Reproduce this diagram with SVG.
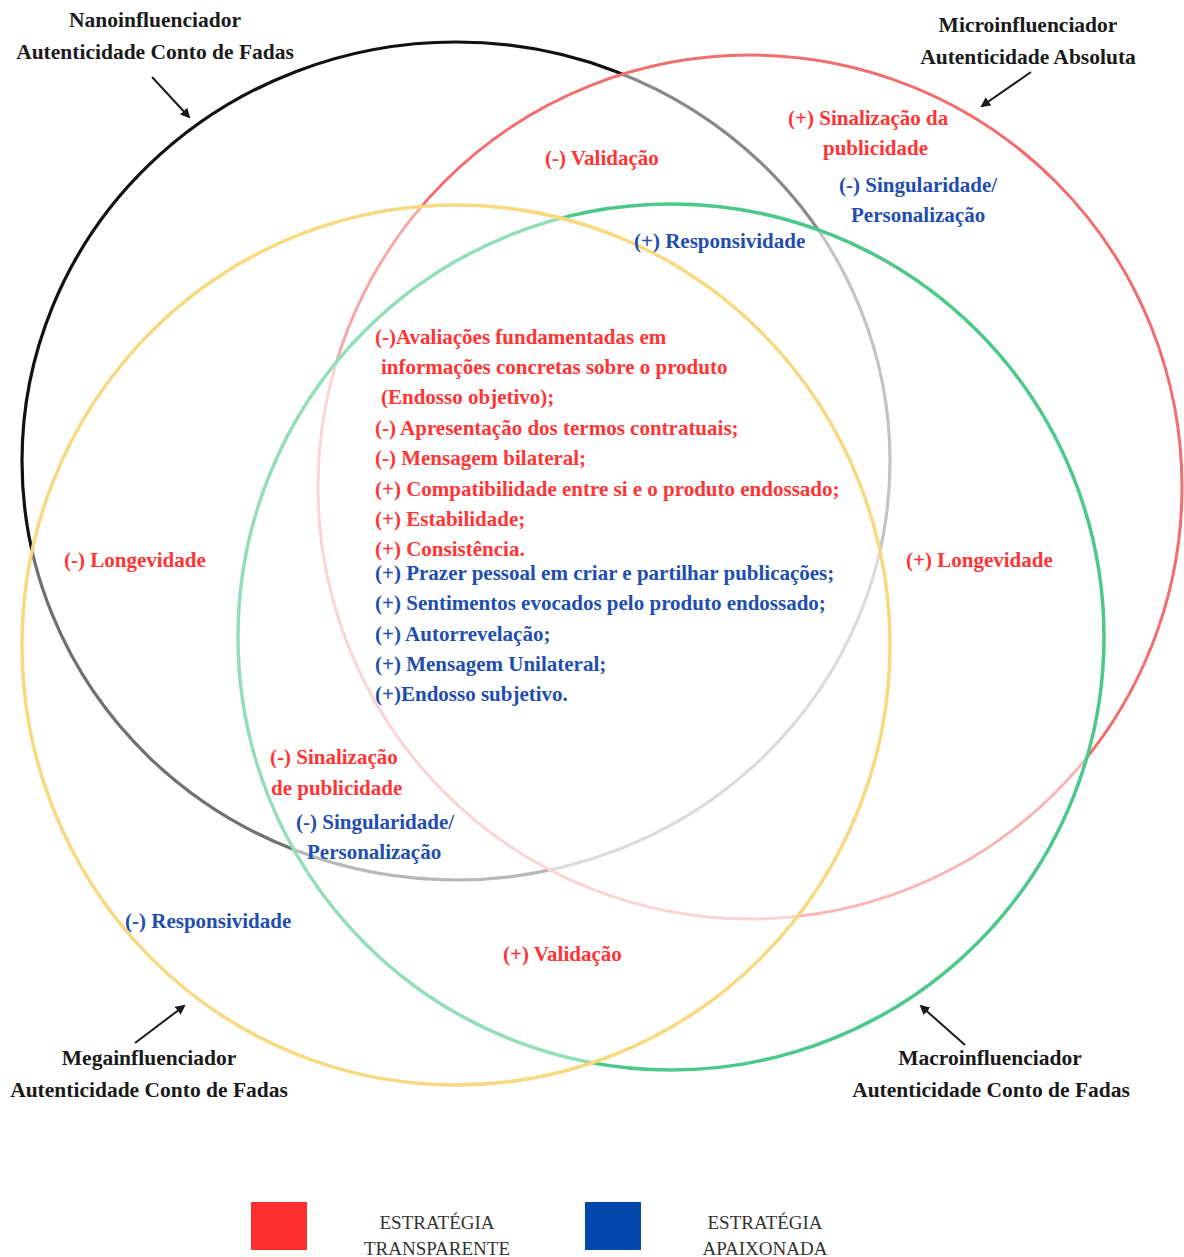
<svg xmlns="http://www.w3.org/2000/svg" width="1184" height="1257" viewBox="0 0 1184 1257">
  <style>
    .ring { fill: #ffffff; fill-opacity: 0.5; }
    .lbl { font-family: "Liberation Serif", "Times New Roman", serif; font-weight: bold; font-size: 21px; }
    .head { fill: #1a1a1a; text-anchor: middle; font-size: 21.5px; }
    .tr { fill: #ff3535; }
    .ap { fill: #1f4eaf; }
    .leg { font-family: "Liberation Serif", "Times New Roman", serif; font-size: 19px; fill: #333333; text-anchor: middle; }
    .ptr { stroke: #1a1a1a; stroke-width: 2; fill: none; marker-end: url(#tip); }
  </style>
  <defs>
    <marker id="tip" viewBox="0 0 10 10" refX="8" refY="5" markerWidth="5" markerHeight="5" orient="auto">
      <path d="M0,0 L10,5 L0,10 z" fill="#1a1a1a"/>
    </marker>
  </defs>
  <rect width="1184" height="1257" fill="#ffffff"/>

  <!-- influencer circles, each veiling the outlines drawn before it -->
  <g id="nano-circle">
    <ellipse cx="456" cy="461" rx="434" ry="419" fill="none" stroke="#111111" stroke-width="3.2"/>
  </g>
  <g id="micro-circle">
    <circle class="ring" cx="750" cy="487" r="432" stroke="#f26d6d" stroke-width="3"/>
  </g>
  <g id="macro-circle">
    <circle class="ring" cx="671" cy="637" r="433" stroke="#4cc98a" stroke-width="3.5"/>
  </g>
  <g id="mega-circle">
    <ellipse cx="456" cy="645" rx="434" ry="440" fill="#ffffff" fill-opacity="0.4" stroke="#f7d982" stroke-width="3.5"/>
  </g>

  <!-- pointers from the titles to their circles -->
  <g id="connectors">
    <line class="ptr" x1="152" y1="77" x2="189" y2="117"/>
    <line class="ptr" x1="1031" y1="72" x2="982" y2="106"/>
    <line class="ptr" x1="135" y1="1043" x2="184" y2="1006"/>
    <line class="ptr" x1="965" y1="1045" x2="921" y2="1006"/>
  </g>

  <g id="nano-title" class="lbl head">
    <text x="155" y="27">Nanoinfluenciador</text>
    <text x="155" y="59">Autenticidade Conto de Fadas</text>
  </g>
  <g id="micro-title" class="lbl head">
    <text x="1028" y="32">Microinfluenciador</text>
    <text x="1028" y="64">Autenticidade Absoluta</text>
  </g>
  <g id="mega-title" class="lbl head">
    <text x="149" y="1065">Megainfluenciador</text>
    <text x="149" y="1097">Autenticidade Conto de Fadas</text>
  </g>
  <g id="macro-title" class="lbl head">
    <text x="990" y="1065">Macroinfluenciador</text>
    <text x="991" y="1097">Autenticidade Conto de Fadas</text>
  </g>

  <g id="micro-traits" class="lbl">
    <text class="tr" x="788" y="125">(+) Sinalização da</text>
    <text class="tr" x="823" y="155">publicidade</text>
    <text class="ap" x="839" y="192">(-) Singularidade/</text>
    <text class="ap" x="851" y="222">Personalização</text>
  </g>
  <g id="nano-micro-traits" class="lbl">
    <text class="tr" x="545" y="165">(-) Validação</text>
    <text class="ap" x="634" y="248">(+) Responsividade</text>
  </g>

  <g id="shared-traits" class="lbl">
    <text class="tr" x="375" y="344">(-)Avaliações fundamentadas em</text>
    <text class="tr" x="381" y="374">informações concretas sobre o produto</text>
    <text class="tr" x="381" y="404">(Endosso objetivo);</text>
    <text class="tr" x="375" y="435">(-) Apresentação dos termos contratuais;</text>
    <text class="tr" x="375" y="465">(-) Mensagem bilateral;</text>
    <text class="tr" x="375" y="496">(+) Compatibilidade entre si e o produto endossado;</text>
    <text class="tr" x="375" y="526">(+) Estabilidade;</text>
    <text class="tr" x="375" y="556">(+) Consistência.</text>
    <text class="ap" x="375" y="580">(+) Prazer pessoal em criar e partilhar publicações;</text>
    <text class="ap" x="375" y="610">(+) Sentimentos evocados pelo produto endossado;</text>
    <text class="ap" x="375" y="641">(+) Autorrevelação;</text>
    <text class="ap" x="375" y="671">(+) Mensagem Unilateral;</text>
    <text class="ap" x="375" y="701">(+)Endosso subjetivo.</text>
  </g>

  <g id="longevity" class="lbl">
    <text class="tr" x="64" y="567">(-) Longevidade</text>
    <text class="tr" x="906" y="567">(+) Longevidade</text>
  </g>

  <g id="nano-mega-traits" class="lbl">
    <text class="tr" x="270" y="764">(-) Sinalização</text>
    <text class="tr" x="271" y="795">de publicidade</text>
    <text class="ap" x="296" y="829">(-) Singularidade/</text>
    <text class="ap" x="307" y="859">Personalização</text>
  </g>
  <g id="mega-macro-traits" class="lbl">
    <text class="ap" x="125" y="928">(-) Responsividade</text>
    <text class="tr" x="503" y="961">(+) Validação</text>
  </g>

  <g id="legend">
    <rect x="251" y="1202" width="56" height="48" fill="#ff2e2e"/>
    <text class="leg" x="437" y="1229">ESTRATÉGIA</text>
    <text class="leg" x="437" y="1255">TRANSPARENTE</text>
    <rect x="585" y="1202" width="56" height="48" fill="#0047ab"/>
    <text class="leg" x="765" y="1229">ESTRATÉGIA</text>
    <text class="leg" x="765" y="1255">APAIXONADA</text>
  </g>
</svg>
